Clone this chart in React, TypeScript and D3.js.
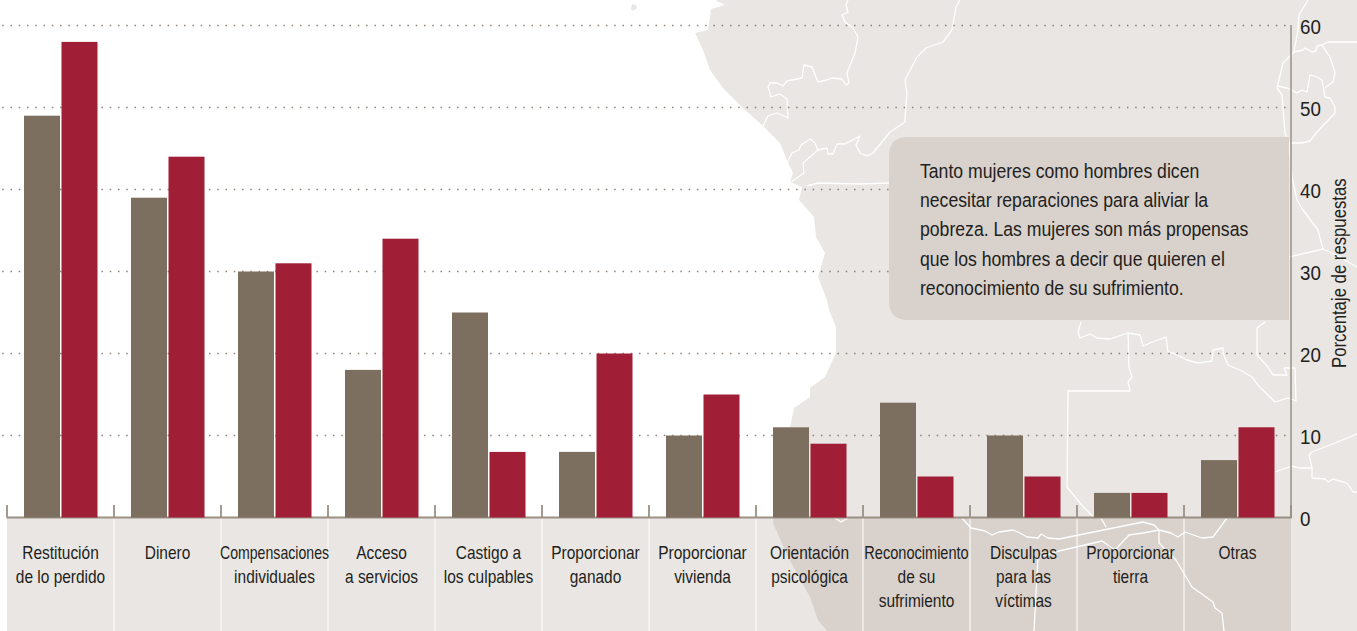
import React from "react";
import * as d3 from "d3";

const categories = [
  ["Restitución", "de lo perdido"],
  ["Dinero"],
  ["Compensaciones", "individuales"],
  ["Acceso", "a servicios"],
  ["Castigo a", "los culpables"],
  ["Proporcionar", "ganado"],
  ["Proporcionar", "vivienda"],
  ["Orientación", "psicológica"],
  ["Reconocimiento", "de su", "sufrimiento"],
  ["Disculpas", "para las", "víctimas"],
  ["Proporcionar", "tierra"],
  ["Otras"],
];
const menValues = [49, 39, 30, 18, 25, 8, 10, 11, 14, 10, 3, 7];
const womenValues = [58, 44, 31, 34, 8, 20, 15, 9, 5, 5, 3, 11];
const yTicks = [0, 10, 20, 30, 40, 50, 60];
const yTitle = "Porcentaje de respuestas";
const noteLines = [
  "Tanto mujeres como hombres dicen",
  "necesitar reparaciones para aliviar la",
  "pobreza. Las mujeres son más propensas",
  "que los hombres a decir que quieren el",
  "reconocimiento de su sufrimiento.",
];

// Background map outline, in page pixels
type P = [number, number];
const coast: P[] = [
  [715, 0], [725, 5], [711, 9], [708, 30], [695, 33], [703, 50], [710, 70], [723, 88], [743, 108], [763, 126],
  [780, 143], [787, 160], [793, 173], [790, 182], [802, 187], [799, 200], [814, 217], [816, 237], [825, 253],
  [818, 277], [827, 300], [829, 310], [836, 327], [836, 353], [825, 377], [810, 388], [810, 397], [794, 408],
  [791, 423], [780, 470], [773, 523], [788, 557], [810, 597], [818, 620], [827, 631],
];
const landEdge: P[] = [[1357, 631], [1357, 0]];
const island: P[] = [[632, 4], [636, 5], [637, 8], [633, 11], [631, 9]];
const borders: P[][] = [
  [[848, 0], [846, 5], [848, 12], [842, 15], [845, 22], [853, 28], [858, 37], [855, 53], [847, 73], [849, 83], [846, 85], [842, 79], [832, 78], [827, 80], [818, 82], [812, 67], [804, 65], [802, 78], [787, 81], [783, 86], [777, 83], [770, 83], [768, 87], [771, 97], [780, 94], [787, 99], [788, 118], [777, 113], [768, 116], [763, 126]],
  [[788, 161], [792, 153], [799, 150], [801, 145], [810, 139], [815, 143], [818, 150], [803, 163], [804, 173], [791, 182]],
  [[818, 150], [827, 148], [828, 154], [833, 154], [837, 144], [845, 144], [860, 136], [856, 145], [860, 153], [867, 156], [873, 153], [890, 132], [905, 122], [905, 117], [907, 93], [905, 80], [917, 57], [926, 48], [943, 42], [952, 30], [956, 7], [960, 0]],
  [[807, 186], [818, 183], [860, 184], [889, 183]],
  [[1308, 0], [1299, 15], [1298, 30], [1294, 52], [1303, 50], [1305, 48], [1312, 52], [1316, 51], [1317, 46], [1322, 45], [1328, 42], [1357, 42]],
  [[1294, 52], [1283, 63], [1277, 88], [1282, 95], [1285, 133], [1289, 143], [1302, 143], [1310, 141], [1317, 132], [1335, 113], [1335, 107], [1330, 98], [1325, 97], [1322, 80], [1317, 77], [1310, 75], [1307, 92], [1302, 90], [1297, 93], [1292, 90], [1287, 88], [1277, 86]],
  [[1322, 45], [1330, 57], [1335, 73], [1333, 82], [1325, 88]],
  [[1289, 143], [1292, 177], [1297, 200], [1303, 210], [1318, 230], [1323, 249], [1289, 257]],
  [[1323, 249], [1340, 257], [1350, 263], [1357, 267]],
  [[1265, 322], [1257, 328], [1257, 355], [1268, 367], [1273, 375], [1287, 375], [1284, 368], [1295, 368], [1296, 401], [1288, 398], [1275, 402], [1258, 385], [1252, 377], [1242, 371], [1228, 365], [1223, 353], [1223, 348], [1213, 350], [1212, 361], [1198, 363], [1187, 360], [1173, 353], [1168, 352], [1166, 337], [1155, 341], [1143, 346], [1140, 335], [1128, 333], [1110, 339], [1097, 338], [1090, 334], [1080, 338], [1078, 332], [1081, 322]],
  [[1128, 333], [1129, 367], [1132, 377], [1128, 382], [1130, 391], [1068, 391], [1067, 487], [1080, 503], [1093, 517]],
  [[1275, 472], [1292, 466], [1299, 468], [1312, 468], [1309, 455], [1312, 452], [1330, 445], [1357, 434]],
  [[1312, 468], [1312, 478], [1325, 479], [1328, 482], [1333, 479], [1347, 483], [1353, 492], [1357, 492]],
  [[962, 518], [971, 528], [985, 531], [992, 535], [999, 532], [1013, 530], [1020, 533], [1027, 537], [1038, 538], [1041, 534], [1048, 538], [1059, 539], [1143, 522], [1154, 525], [1159, 530], [1171, 533], [1178, 537], [1185, 532], [1202, 538], [1213, 537], [1227, 518]],
  [[1101, 518], [1106, 527]],
  [[1159, 530], [1159, 543], [1176, 560], [1192, 587], [1213, 602], [1215, 608], [1222, 613], [1224, 631]],
  [[1159, 530], [1143, 533], [1129, 535], [1115, 550], [1102, 541], [1059, 551], [1038, 557], [1034, 631]],
  [[835, 518], [841, 522], [848, 518]],
];

const LIGHT = "#e9e6e3";
const DARK = "#d8d1cc";
const BROWN = "#7c6f60";
const RED = "#a01f37";
const AXIS = "#9a8f84";
const INK = "#231f20";
const FONT = "'Liberation Sans', Arial, sans-serif";
const labelScale = (l: string) => (l === "Compensaciones" ? 0.785 : l === "Reconocimiento" ? 0.81 : 0.86);

export default function App() {
  const labels = categories.map((c) => c.join(" "));
  const x = d3.scaleBand<string>().domain(labels).range([7, 1291]);
  const inner = d3.scaleBand<string>().domain(["men", "women"]).range([17, 90.5]).paddingInner(0.04);
  const y = d3.scaleLinear().domain([0, 60]).range([517.5, 25.5]);
  const line = d3.line<P>().curve(d3.curveLinear);
  const closed = (pts: P[]) => (line(pts) as string) + "Z";
  const land = closed([...coast, ...landEdge]);
  const series = [
    { key: "men", values: menValues, color: BROWN },
    { key: "women", values: womenValues, color: RED },
  ];

  return (
    <svg width={1357} height={631} viewBox="0 0 1357 631" style={{ position: "absolute", left: 0, top: 0, display: "block", background: "#fff" }}>
      <defs>
        <clipPath id="strip"><rect x={7} y={518} width={1284} height={113} /></clipPath>
      </defs>
      <path d={land} fill={LIGHT} />
      <path d={closed(island)} fill={LIGHT} />
      <rect x={7} y={518} width={1284} height={113} fill={LIGHT} />
      <path d={land} fill={DARK} clipPath="url(#strip)" />
      <g fill="none" stroke="#fff" strokeWidth={1.3} strokeLinejoin="round">
        {borders.map((b, i) => <path key={i} d={line(b) as string} />)}
      </g>

      {yTicks.filter((t) => t > 0).map((t) => (
        <line key={t} x1={2.2} x2={1291} y1={y(t)} y2={y(t)} stroke={BROWN} strokeOpacity={0.85} strokeWidth={1.5} strokeDasharray="1.5 6.77" />
      ))}

      <path d="M889 320 V156 Q889 137 908 137 H1289 V320 H908 Q889 320 889 301 Z" fill={DARK} />
      <g fontFamily={FONT} fontSize={19.5} fill={INK}>
        {noteLines.map((l, i) => (
          <text key={i} transform={`translate(920 ${177.5 + i * 29.4}) scale(0.905 1)`}>{l}</text>
        ))}
      </g>

      {x.domain().slice(1).map((d) => (
        <line key={d} x1={x(d)!} x2={x(d)!} y1={518} y2={631} stroke="#fff" strokeWidth={1} />
      ))}
      <line x1={1291} x2={1291} y1={25} y2={518} stroke={AXIS} strokeWidth={1.5} />
      <line x1={6.5} x2={1291.8} y1={517.5} y2={517.5} stroke={AXIS} strokeWidth={2} />
      {[...x.domain(), "end"].map((d) => {
        const px = d === "end" ? 1291 : x(d)!;
        return <line key={d} x1={px} x2={px} y1={505} y2={517} stroke={AXIS} strokeWidth={1.8} />;
      })}

      {series.map((s) => (
        <g key={s.key} fill={s.color}>
          {s.values.map((v, i) => (
            <rect key={i} x={x(labels[i])! + inner(s.key)!} y={y(v)} width={inner.bandwidth()} height={y(0) - y(v)} />
          ))}
        </g>
      ))}

      <g fontFamily={FONT} fontSize={18} fill={INK} textAnchor="middle">
        {categories.map((c, i) => (
          <g key={i}>
            {c.map((l, j) => (
              <text key={j} transform={`translate(${x(labels[i])! + x.bandwidth() / 2} ${558.5 + j * 24}) scale(${labelScale(l)} 1)`}>{l}</text>
            ))}
          </g>
        ))}
      </g>

      <g fontFamily={FONT} fontSize={21} fill={INK}>
        {yTicks.map((t) => (
          <text key={t} transform={`translate(1300 ${y(t) + 8}) scale(0.895 1)`}>{t}</text>
        ))}
      </g>
      <text transform="translate(1346 368) rotate(-90) scale(0.858 1)" fontFamily={FONT} fontSize={19.5} fill={INK}>{yTitle}</text>
    </svg>
  );
}
